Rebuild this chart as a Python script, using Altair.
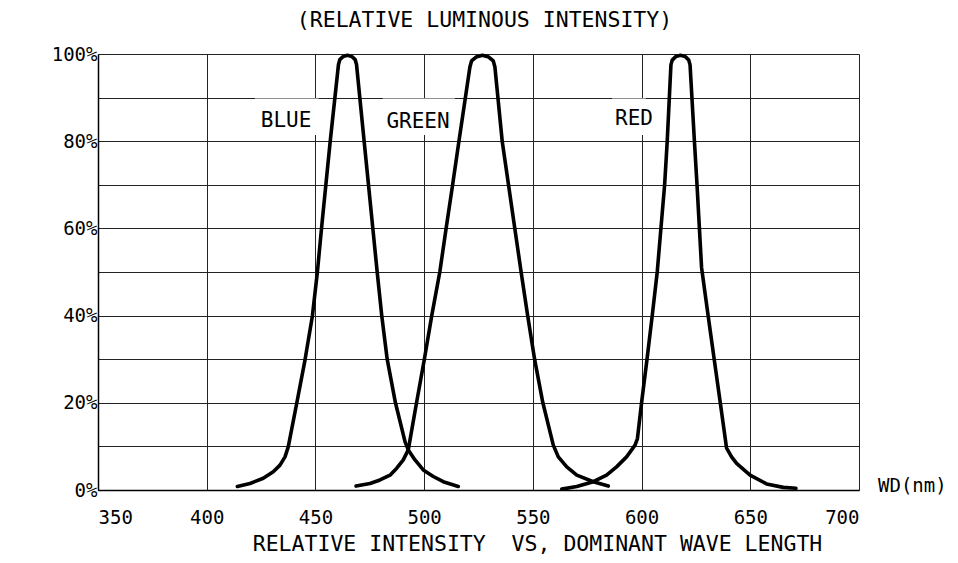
import altair as alt
import pandas as pd

# ---- data ----
blue_x = [414.1, 419.9, 426.0, 430.6, 433.7, 436.0, 437.5, 441.4, 445.2, 448.6, 450.9, 452.8, 454.8, 456.8,
          460.6, 461.2, 462.7, 464.75, 466.8, 468.3, 468.9,
          472.4, 474.4, 476.4, 478.4, 480.5, 483.0, 486.8, 491.2, 492.7, 495.8, 499.6, 504.2, 508.8, 515.7]
blue_y = [0.8, 1.5, 2.7, 4.2, 5.7, 7.6, 9.9, 19.9, 29.8, 39.9, 50.0, 60.0, 70.0, 80.0,
          97.6, 98.7, 99.4, 99.7, 99.4, 98.7, 97.6,
          80.0, 70.0, 60.0, 50.0, 40.0, 30.0, 20.0, 11.1, 9.2, 6.9, 4.6, 3.1, 1.9, 0.8]

green_x = [468.7, 475.1, 479.7, 484.3, 487.4, 490.4, 492.7, 496.5, 500.1, 503.5, 507.2, 510.1, 513.1, 516.0,
           521.05, 521.8, 523.9, 526.8, 529.7, 531.8, 532.55,
           535.9, 538.8, 541.7, 544.6, 547.6, 550.8, 554.6, 559.4, 561.7, 565.6, 570.2, 577.8, 584.7]
green_y = [0.9, 1.5, 2.3, 3.4, 5.0, 6.9, 9.2, 20.0, 30.0, 40.0, 50.0, 60.0, 70.0, 80.0,
           97.0, 98.4, 99.3, 99.7, 99.3, 98.4, 97.0,
           80.0, 70.0, 60.0, 50.0, 40.0, 30.0, 20.0, 10.3, 7.6, 5.3, 3.4, 1.9, 0.9]

red_x = [563.3, 570.2, 577.8, 583.9, 588.5, 593.1, 597.0, 598.1, 600.0, 602.5, 604.9, 607.2, 608.9, 610.6, 611.8,
         613.5, 614.1, 615.7, 617.9, 620.1, 621.7, 622.3,
         624.3, 625.5, 626.6, 627.6, 630.6, 633.4, 636.2, 639.1, 641.4, 643.7, 649.9, 657.5, 665.2, 671.0]
red_y = [0.2, 0.8, 1.9, 3.4, 5.3, 7.6, 10.3, 11.8, 20.0, 30.0, 40.0, 50.0, 60.0, 70.0, 80.0,
         97.5, 98.6, 99.4, 99.7, 99.4, 98.6, 97.5,
         80.0, 70.0, 60.0, 51.0, 40.0, 30.0, 20.0, 9.6, 7.6, 6.1, 3.4, 1.4, 0.6, 0.4]

label_text = ["BLUE", "GREEN", "RED"]
label_x = [436.5, 497.2, 596.5]
label_y = [84.7, 84.3, 85.1]
gap_x1 = [422.2, 481.0, 586.4]
gap_x2 = [451.5, 514.2, 602.0]
gap_y1 = [81.4, 81.4, 81.4]
gap_y2 = [89.8, 89.8, 89.8]

x_ticks = [350, 400, 450, 500, 550, 600, 650, 700]
y_ticks = [0, 10, 20, 30, 40, 50, 60, 70, 80, 90, 100]

unit_text = ["WD(nm)"]
unit_x = [700]
unit_y = [0]

FONT = "DejaVu Sans Mono"

rows = []
for name, xs, ys in (("BLUE", blue_x, blue_y), ("GREEN", green_x, green_y), ("RED", red_x, red_y)):
    for i, (a, b) in enumerate(zip(xs, ys)):
        rows.append({"series": name, "wl": a, "rel": b, "order": i})
curves = pd.DataFrame(rows)

labels = pd.DataFrame({"text": label_text, "x": label_x, "y": label_y,
                       "x1": gap_x1, "x2": gap_x2, "y1": gap_y1, "y2": gap_y2})
unit = pd.DataFrame({"text": unit_text, "x": unit_x, "y": unit_y})

xscale = alt.Scale(domain=[350, 700], nice=False, zero=False)
yscale = alt.Scale(domain=[0, 100], nice=False)

x_axis = alt.Axis(values=x_ticks, grid=True, gridColor="#222", gridWidth=1, gridOpacity=1,
                  domainColor="#000", domainWidth=1.5, ticks=False,
                  labelFont=FONT, labelFontSize=19, labelColor="#000", labelPadding=18,
                  labelFontWeight="normal",
                  title="RELATIVE INTENSITY\u00a0\u00a0VS, DOMINANT WAVE LENGTH",
                  titleFont=FONT, titleFontSize=21.5, titleFontWeight="normal", titleColor="#000",
                  titleX=439, titleY=54, titleBaseline="middle", titleAnchor="middle", titleAlign="center")
y_axis = alt.Axis(values=y_ticks, grid=True, gridColor="#222", gridWidth=1, gridOpacity=1,
                  domainColor="#000", domainWidth=1.5, ticks=False,
                  labelExpr="datum.value % 20 == 0 ? datum.value + '%' : ''",
                  labelFont=FONT, labelFontSize=19, labelColor="#000", labelPadding=1,
                  labelFontWeight="normal", title=None)

base_lines = alt.Chart(curves).mark_line(color="#000", strokeWidth=3.6, interpolate="linear",
                                          strokeCap="round", strokeJoin="round").encode(
    x=alt.X("wl:Q", scale=xscale, axis=x_axis),
    y=alt.Y("rel:Q", scale=yscale, axis=y_axis),
    detail="series:N",
    order="order:Q",
)

gaps = alt.Chart(labels).mark_rect(color="white").encode(
    x=alt.X("x1:Q", scale=xscale), x2="x2:Q",
    y=alt.Y("y1:Q", scale=yscale), y2="y2:Q",
)

texts = alt.Chart(labels).mark_text(font=FONT, fontSize=21, color="#000", baseline="middle",
                                    align="center").encode(
    x=alt.X("x:Q", scale=xscale), y=alt.Y("y:Q", scale=yscale), text="text:N"
)

unit_mark = alt.Chart(unit).mark_text(font=FONT, fontSize=19, color="#000", baseline="middle",
                                      align="left", dx=19, dy=-4).encode(
    x=alt.X("x:Q", scale=xscale), y=alt.Y("y:Q", scale=yscale), text="text:N"
)

chart = alt.layer(gaps, base_lines, texts, unit_mark).properties(
    width=761, height=436,
    title=alt.Title("(RELATIVE LUMINOUS INTENSITY)", font=FONT, fontSize=21.5, fontWeight="normal",
                    color="#000", offset=14, dx=6),
    padding={"left": 90, "top": 46, "right": 91, "bottom": 65},
    autosize=alt.AutoSizeParams(type="none"),
).configure_view(stroke="#000", strokeWidth=1.5).configure(background="white")

chart.save("out.html", embed_options={"renderer": "svg", "actions": False})
